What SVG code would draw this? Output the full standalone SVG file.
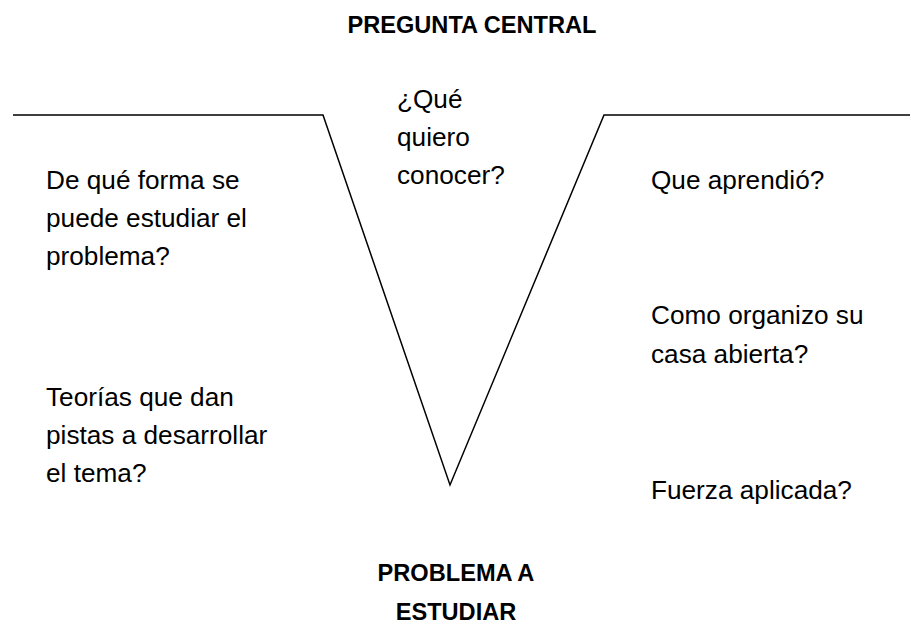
<svg xmlns="http://www.w3.org/2000/svg" width="911" height="625" viewBox="0 0 911 625">
<style>
.t{font-family:"Liberation Sans",Arial,sans-serif;font-size:26.2px;fill:#000}
.b{font-family:"Liberation Sans",Arial,sans-serif;font-size:23.6px;font-weight:bold;fill:#000;text-anchor:middle}
.ln{fill:none;stroke:#000;stroke-width:1.5}
</style>
<rect width="911" height="625" fill="#fff"/>
<g id="connectors">
<polyline class="ln" points="13,115 323,115 450,485 604,115 910,115"/>
</g>
<g id="title"><text class="b" x="472" y="33">PREGUNTA CENTRAL</text></g>
<g id="center"><text class="t" x="397" y="108">¿Qué</text><text class="t" x="397" y="146">quiero</text><text class="t" x="397" y="184">conocer?</text></g>
<g id="left-top"><text class="t" x="46" y="189">De qué forma se</text><text class="t" x="46" y="227">puede estudiar el</text><text class="t" x="46" y="265">problema?</text></g>
<g id="left-bottom"><text class="t" x="46" y="406">Teorías que dan</text><text class="t" x="46" y="444">pistas a desarrollar</text><text class="t" x="46" y="482">el tema?</text></g>
<g id="right-1"><text class="t" x="651" y="189">Que aprendió?</text></g>
<g id="right-2"><text class="t" x="651" y="324">Como organizo su</text><text class="t" x="651" y="363">casa abierta?</text></g>
<g id="right-3"><text class="t" x="651" y="499">Fuerza aplicada?</text></g>
<g id="bottom"><text class="b" x="456" y="581">PROBLEMA A</text><text class="b" x="456" y="620">ESTUDIAR</text></g>
</svg>
